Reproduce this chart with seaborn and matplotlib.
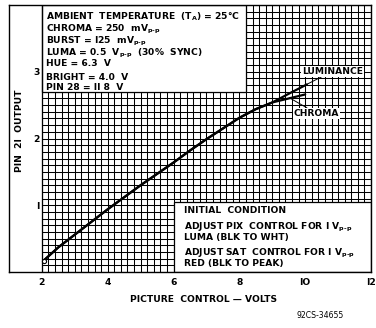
import seaborn as sns
import numpy as np
import pandas as pd
import matplotlib.pyplot as plt
from matplotlib.patches import Rectangle

# shared part of the curve (luminance and chroma overlap up to ~9 V)
shared_x = [2.05, 2.5, 3.0, 3.5, 4.0, 4.5, 5.0, 5.5, 6.0, 6.5, 7.0, 7.5, 8.0, 8.5, 9.0]
shared_y = [0.17, 0.37, 0.56, 0.75, 0.94, 1.12, 1.30, 1.47, 1.64, 1.82, 1.99, 2.15, 2.31, 2.44, 2.54]
lum_x = [9.5, 10.05]
lum_y = [2.67, 2.81]
chroma_x = [9.5, 10.0]
chroma_y = [2.60, 2.66]

x_ticks = [2, 4, 6, 8, 10, 12]
x_ticklabels = ["2", "4", "6", "8", "IO", "I2"]
y_ticks = [1, 2, 3]
y_ticklabels = ["I", "2", "3"]

pp = "$_\\mathregular{p‐p}$"
box_lines = [
    "AMBIENT  TEMPERATURE  (T$_\\mathregular{A}$) = 25°C",
    "CHROMA = 250  mV" + pp,
    "BURST = I25  mV" + pp,
    "LUMA = 0.5  V" + pp + "  (30%  SYNC)",
    "HUE = 6.3  V",
    "BRIGHT = 4.0  V",
    "PIN 28 = II 8  V",
]
cond_lines = [
    "INITIAL  CONDITION",
    "ADJUST PIX  CONTROL FOR I V" + pp,
    "LUMA (BLK TO WHT)",
    "ADJUST SAT  CONTROL FOR I V" + pp,
    "RED (BLK TO PEAK)",
]

df = pd.concat([
    pd.DataFrame({"volts": shared_x + lum_x, "out": shared_y + lum_y, "series": "LUMINANCE"}),
    pd.DataFrame({"volts": shared_x + chroma_x, "out": shared_y + chroma_y, "series": "CHROMA"}),
])

sns.set_style("white")
plt.rcParams["font.family"] = ["DejaVu Sans"]
plt.rcParams["mathtext.default"] = "regular"
for k in ["text.color", "axes.labelcolor", "xtick.color", "ytick.color"]:
    plt.rcParams[k] = "black"

fig = plt.figure(figsize=(3.76, 3.28), dpi=100)
ax = fig.add_axes([9 / 376, 56 / 328, 362 / 376, 267 / 328])
ax.set_xlim(1, 12)
ax.set_ylim(0, 4)

# graph paper grid only over the 2..12 V area
ax.vlines(np.arange(2, 12.01, 0.2), 0, 4, color="black", lw=0.75, zorder=1)
ax.hlines(np.arange(0, 4.01, 0.1), 2, 12, color="black", lw=0.75, zorder=1)

# white panels for the notes
ax.add_patch(Rectangle((2, 2.69), 6.2, 1.31, facecolor="white", edgecolor="black", lw=0.9, zorder=2))
ax.add_patch(Rectangle((6.0, 0), 6.0, 1.045, facecolor="white", edgecolor="black", lw=0.9, zorder=2))
ax.axvline(2, color="black", lw=0.9, zorder=2)

sns.lineplot(data=df, x="volts", y="out", hue="series", palette=["black", "black"],
             estimator=None, sort=False, legend=False, lw=1.6, ax=ax, zorder=3)
ax.plot(shared_x[0], shared_y[0], "o", ms=3, mfc="white", mec="black", mew=0.8, zorder=4)

tkw = dict(fontsize=6.6, fontweight="bold", zorder=5)
for i, s in enumerate(box_lines):
    ax.text(2.12, [3.78, 3.61, 3.43, 3.24, 3.09, 2.88, 2.73][i], s, ha="left", va="baseline", **tkw)
for i, s in enumerate(cond_lines):
    ax.text(6.32, [0.88, 0.64, 0.48, 0.25, 0.09][i], s, ha="left", va="baseline", **tkw)

bb = dict(boxstyle="square,pad=0.1", fc="white", ec="none")
ax.annotate("LUMINANCE", xy=(9.57, 2.69), xytext=(9.9, 2.97), ha="left", va="baseline",
            bbox=bb, arrowprops=dict(arrowstyle="-", color="black", lw=0.7, shrinkA=0, shrinkB=0), **tkw)
ax.annotate("CHROMA", xy=(9.52, 2.61), xytext=(9.65, 2.34), ha="left", va="baseline",
            bbox=bb, arrowprops=dict(arrowstyle="-", color="black", lw=0.7, shrinkA=0, shrinkB=0), **tkw)

ax.text(1.33, 2.12, "PIN  2I  OUTPUT", rotation=90, ha="center", va="center", **tkw)

ax.set_xticks(x_ticks, x_ticklabels, fontsize=6.6, fontweight="bold")
ax.set_yticks(y_ticks, y_ticklabels, fontsize=6.6, fontweight="bold")
ax.tick_params(axis="x", length=0, pad=4)
ax.tick_params(axis="y", length=0, pad=-22)
ax.set_xlabel("PICTURE  CONTROL — VOLTS", fontsize=6.6, fontweight="bold")
ax.xaxis.set_label_coords((204 - 9) / 362, -0.085)
ax.set_ylabel("")
for sp in ax.spines.values():
    sp.set_color("black")
    sp.set_linewidth(1.0)

fig.text(320 / 376, 1 - 316 / 328, "92CS-34655", ha="center", va="center", fontsize=5.6)

fig.savefig("out.png", dpi=100)
